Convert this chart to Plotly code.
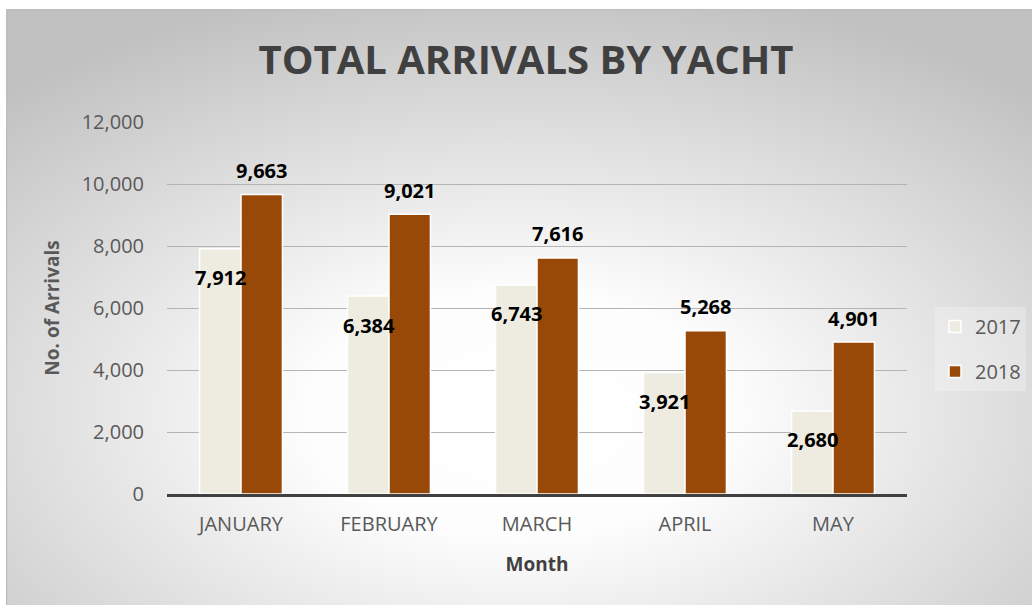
import base64
import plotly.graph_objects as go

months = ["JANUARY", "FEBRUARY", "MARCH", "APRIL", "MAY"]
arrivals_2017 = [7912, 6384, 6743, 3921, 2680]
arrivals_2018 = [9663, 9021, 7616, 5268, 4901]
series_names = ["2017", "2018"]
y_ticks = [0, 2000, 4000, 6000, 8000, 10000, 12000]

W, H = 1032, 605
L, R, T, B = 167, 125, 122, 111
pw, ph = W - L - R, H - T - B

svg = f"""<svg xmlns='http://www.w3.org/2000/svg' width='1026' height='596' viewBox='0 0 1026 596' preserveAspectRatio='none'>
<defs><radialGradient id='g' cx='0.5' cy='0.68' r='0.74' gradientUnits='objectBoundingBox'>
<stop offset='0' stop-color='#ffffff'/><stop offset='0.28' stop-color='#fdfdfd'/>
<stop offset='1' stop-color='#c0c0c0'/></radialGradient></defs>
<rect x='0' y='0' width='1026' height='596' fill='url(#g)'/>
<rect x='0.5' y='0.5' width='1030' height='600' fill='none' stroke='#bdbdbd' stroke-width='1.5'/>
</svg>"""
src = "data:image/svg+xml;base64," + base64.b64encode(svg.encode()).decode()

font = "Open Sans, Lato, sans-serif"

fig = go.Figure()
fig.add_trace(go.Bar(x=months, y=arrivals_2017, name=series_names[0], legendgroup="a",
                     marker=dict(color="#eeece1", line=dict(color="#ffffff", width=1.5))))
fig.add_trace(go.Bar(x=months, y=arrivals_2018, name=series_names[1], legendgroup="b",
                     marker=dict(color="#984807", line=dict(color="#ffffff", width=1.5))))

annotations = []
for m, v in zip(months, arrivals_2017):
    annotations.append(dict(x=m, y=v, xref="x", yref="y", text=f"{v:,}", showarrow=False,
                            xshift=-20.5, yshift=-29, yanchor="middle",
                            font=dict(family=font, size=20, color="#000000", weight="bold")))
for m, v in zip(months, arrivals_2018):
    annotations.append(dict(x=m, y=v, xref="x", yref="y", text=f"{v:,}", showarrow=False,
                            xshift=20.5, yshift=24, yanchor="middle",
                            font=dict(family=font, size=20, color="#000000", weight="bold")))

fig.update_layout(
    width=W, height=H,
    margin=dict(l=L, r=R, t=T, b=B, autoexpand=False),
    paper_bgcolor="#ffffff",
    plot_bgcolor="rgba(0,0,0,0)",
    barmode="group", bargap=0.44, bargroupgap=0,
    title=dict(text="<b>TOTAL ARRIVALS BY YACHT</b>", x=526 / W, xref="container", xanchor="center",
               y=1 - 60 / H, yref="container", yanchor="middle",
               font=dict(family=font, size=40, color="#404040")),
    font=dict(family=font, color="#595959"),
    xaxis=dict(showline=True, linecolor="#404040", linewidth=3, ticks="",
               tickfont=dict(size=20, color="#595959"), ticklabelstandoff=10,
               title=dict(text="<b>Month</b>", font=dict(size=19, color="#404040"), standoff=22),
               fixedrange=True),
    yaxis=dict(range=[0, 12000], tickvals=y_ticks, tickformat=",", showgrid=True,
               gridcolor="#b4b4b4", gridwidth=1, zeroline=False, showline=False, ticks="",
               tickfont=dict(size=20, color="#595959"), ticklabelstandoff=22,
               title=dict(text="<b>No. of Arrivals</b>", font=dict(size=19, color="#595959"), standoff=16),
               fixedrange=True),
    legend=dict(x=(935 - L) / pw, y=(494 - 307) / ph, xanchor="left", yanchor="top",
                bgcolor="rgba(255,255,255,0.25)", font=dict(size=20, color="#595959"),
                tracegroupgap=16, itemclick=False, itemdoubleclick=False),
    annotations=annotations,
    images=[dict(source=src, xref="paper", yref="paper",
                 x=(6 - L) / pw, y=(494 - 9) / ph, sizex=1026 / pw, sizey=596 / ph,
                 xanchor="left", yanchor="top", sizing="stretch", layer="below")],
)

fig.write_html("out.html", config={"displayModeBar": False},
               post_script="document.body.style.margin='0';document.body.style.overflow='hidden';")
